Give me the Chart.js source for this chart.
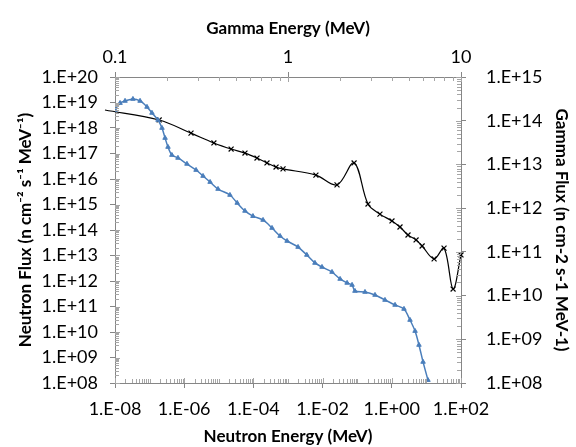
<!DOCTYPE html>
<html><head><meta charset="utf-8">
<script src="https://cdn.jsdelivr.net/npm/chart.js@4"></script>
<style>html,body{margin:0;padding:0;background:#fff}#wrap{width:576px;height:447px}</style>
</head><body><div id="wrap"><canvas id="c" width="576" height="447"></canvas></div>
<script>
// ---- data ----
const neutronEnergy = [1e-8,1.4e-8,1.95e-8,3.3e-8,5.3e-8,8.4e-8,1.17e-7,1.75e-7,2.28e-7,2.8e-7,3.4e-7,4.4e-7,6.6e-7,1.2e-6,2.2e-6,3.5e-6,5.6e-6,9.5e-6,2.1e-5,3.4e-5,5.7e-5,9.7e-5,1.9e-4,3.45e-4,5.9e-4,9.4e-4,1.95e-3,3.5e-3,6.0e-3,9.6e-3,1.87e-2,3.2e-2,5.1e-2,7.1e-2,8.6e-2,0.168,0.327,0.635,1.24,2.25,3.36,4.7,6.1,8.0,11.1];
const neutronFlux = [5.1e18,9.5e18,1.15e19,1.37e19,1.15e19,6.7e18,3.9e18,2.06e18,1e18,4.05e17,1.8e17,8.7e16,6.7e16,3.9e16,2.25e16,1.31e16,7.6e15,4.05e15,2.36e15,1.15e15,5.6e14,3.5e14,2.47e14,1.2e14,5.8e13,3.7e13,2.15e13,1.05e13,5.1e12,3.54e12,2.25e12,1.2e12,8.4e11,7.0e11,4.05e11,3.7e11,2.83e11,1.8e11,1.15e11,8.0e10,2.96e10,1.09e10,3.1e9,6.7e8,1.3e8];
const gammaEnergy = [0.0875,0.18,0.275,0.373,0.469,0.564,0.662,0.756,0.853,0.936,1.45,1.92,2.41,2.9,3.4,3.99,4.44,4.94,5.5,5.96,6.99,7.98,9.0,10.0];
const gammaFlux = [1.76e14,1.04e14,5.2e13,3.1e13,2.25e13,1.82e13,1.4e13,1.08e13,8.7e12,7.9e12,5.7e12,3.4e12,1.08e13,1.24e12,7.3e11,5.1e11,3.7e11,2.43e11,1.87e11,1.36e11,6.9e10,1.22e11,1.41e10,8.5e10];

// ---- tick labels ----
const neutronEnergyTicks = [1e-8,1e-6,1e-4,1e-2,1e0,1e2];
const neutronEnergyLabels = ['1.E-08','1.E-06','1.E-04','1.E-02','1.E+00','1.E+02'];
const neutronFluxTicks = [1e8,1e9,1e10,1e11,1e12,1e13,1e14,1e15,1e16,1e17,1e18,1e19,1e20];
const neutronFluxLabels = ['1.E+08','1.E+09','1.E+10','1.E+11','1.E+12','1.E+13','1.E+14','1.E+15','1.E+16','1.E+17','1.E+18','1.E+19','1.E+20'];
const gammaEnergyTicks = [0.1,1,10];
const gammaEnergyLabels = ['0.1','1','10'];
const gammaFluxTicks = [1e8,1e9,1e10,1e11,1e12,1e13,1e14,1e15];
const gammaFluxLabels = ['1.E+08','1.E+09','1.E+10','1.E+11','1.E+12','1.E+13','1.E+14','1.E+15'];

const axisColor = '#868686';
const tickFont = {family:'Lato', size:18};
const titleFont = {family:'Lato', size:17, weight:'bold'};

function idxOf(v, arr){ for(let i=0;i<arr.length;i++){ if(Math.abs(Math.log10(v)-Math.log10(arr[i]))<1e-6) return i; } return -1; }
function logTicks(min,max){
  const out=[]; const e0=Math.round(Math.log10(min)), e1=Math.round(Math.log10(max));
  for(let e=e0;e<=e1;e++){ for(let s=1;s<=9;s++){ if(e===e1 && s>1) break; out.push({value:Number(s+'e'+e)}); } }
  return out;
}
function makeScale(pos, min, max, tickVals, tickLabels, size, title, tickPad, titlePad){
  const horizontal = pos==='top'||pos==='bottom';
  return {
    type:'logarithmic', position:pos, min:min, max:max,
    afterBuildTicks: s => { s.ticks = logTicks(min,max); },
    afterFit: s => { if(horizontal) s.height = size; else s.width = size; },
    ticks:{autoSkip:false, maxRotation:0, minRotation:0, font:tickFont, color:'#000', padding:tickPad,
      callback:(v)=>{ const i=idxOf(v,tickVals); return i>=0?tickLabels[i]:''; }},
    grid:{drawOnChartArea:false, drawTicks:true, tickLength:5,
      tickColor: ctx => (ctx.tick && idxOf(ctx.tick.value,tickVals)>=0) ? axisColor : 'rgba(0,0,0,0)'},
    border:{display:true, color:axisColor, width:1},
    title:{display:true, text:title, font:titleFont, color:'#000', padding:titlePad}
  };
}

const innerTicks = {
  id:'innerTicks',
  afterDraw(chart){
    const ctx=chart.ctx, a=chart.chartArea;
    ctx.save(); ctx.strokeStyle='#a6a6a6'; ctx.lineWidth=1;
    const defs = {x:neutronEnergyTicks, x2:gammaEnergyTicks, y:neutronFluxTicks, y2:gammaFluxTicks};
    for(const id of ['x','x2','y','y2']){
      const s=chart.scales[id];
      for(const t of s.ticks){
        const major = idxOf(t.value, defs[id])>=0;
        const len = major?5:4;
        const p = Math.round(s.getPixelForValue(t.value))+0.5;
        ctx.beginPath();
        if(id==='x'){ ctx.moveTo(p,a.bottom); ctx.lineTo(p,a.bottom-len); }
        else if(id==='x2'){ ctx.moveTo(p,a.top); ctx.lineTo(p,a.top+len); }
        else if(id==='y'){ ctx.moveTo(a.left,p); ctx.lineTo(a.left+len,p); }
        else { ctx.moveTo(a.right,p); ctx.lineTo(a.right-len,p); }
        ctx.stroke();
      }
    }
    ctx.restore();
  }
};

new Chart(document.getElementById('c'), {
  type:'line',
  data:{datasets:[
    {label:'Neutron', data: neutronEnergy.map((e,i)=>({x:e,y:neutronFlux[i]})), xAxisID:'x', yAxisID:'y',
      borderColor:'#4a7ebb', backgroundColor:'#4a7ebb', borderWidth:1.5, tension:0.3,
      pointStyle:'triangle', pointRadius:2.6, pointBorderWidth:1, pointBorderColor:'#4a7ebb', pointBackgroundColor:'#4a7ebb'},
    {label:'Gamma', data: gammaEnergy.map((e,i)=>({x:e,y:gammaFlux[i]})), xAxisID:'x2', yAxisID:'y2',
      borderColor:'#000', backgroundColor:'#000', borderWidth:1.2, tension:0.35, clip:false,
      pointStyle:'crossRot', pointRadius:3.5, pointBorderWidth:1.2, pointBorderColor:'#000'}
  ]},
  options:{
    responsive:false, animation:false, events:[],
    layout:{padding:0},
    plugins:{legend:{display:false}, tooltip:{enabled:false}},
    scales:{
      x: makeScale('bottom',1e-8,1e2,neutronEnergyTicks,neutronEnergyLabels,64,'Neutron Energy (MeV)',10,{top:0,bottom:0}),
      x2: makeScale('top',0.1,10,gammaEnergyTicks,gammaEnergyLabels,77,'Gamma Energy (MeV)',4,{top:18,bottom:0}),
      y: makeScale('left',1e8,1e20,neutronFluxTicks,neutronFluxLabels,115,'Neutron Flux (n cm\u207B\u00B2 s\u207B\u00B9 MeV\u207B\u00B9)',12,{top:15,bottom:0}),
      y2: makeScale('right',1e8,1e15,gammaFluxTicks,gammaFluxLabels,115,'Gamma Flux (n cm-2 s-1 MeV-1)',20,{top:4,bottom:0})
    }
  },
  plugins:[innerTicks]
});
</script></body></html>
